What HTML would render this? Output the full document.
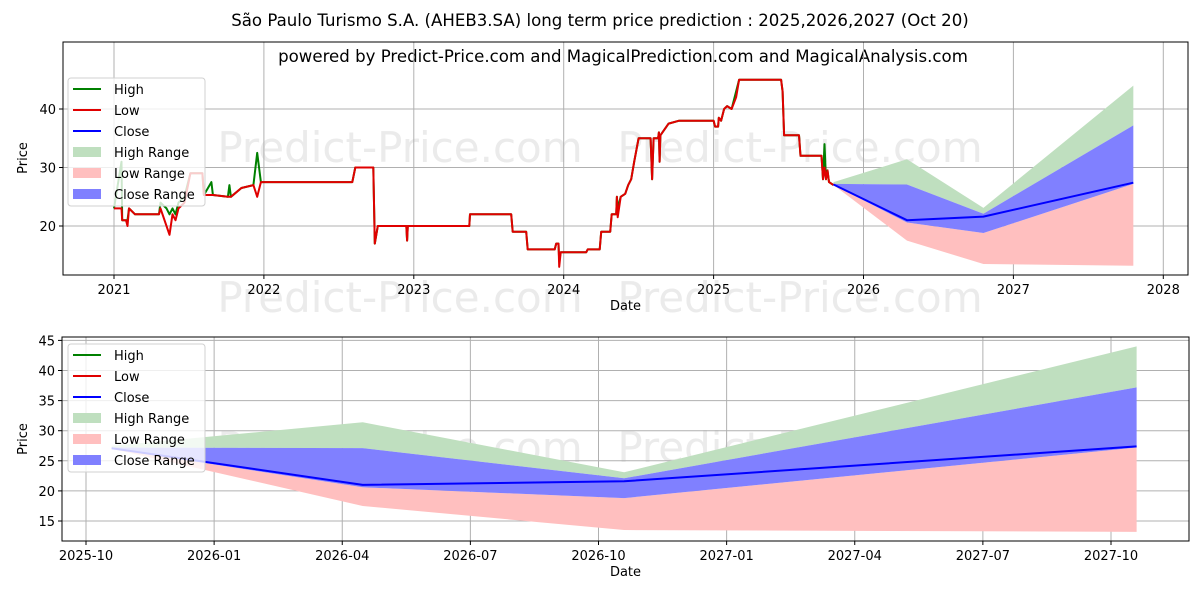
<!DOCTYPE html>
<html><head><meta charset="utf-8">
<style>
html,body{margin:0;padding:0;background:#fff;}
svg{display:block;font-family:"DejaVu Sans","Liberation Sans",sans-serif;}
</style></head>
<body>
<svg id="chart" width="1200" height="600" viewBox="0 0 1200 600" xmlns="http://www.w3.org/2000/svg">
<text x="600" y="26" text-anchor="middle" font-size="16.6">São Paulo Turismo S.A. (AHEB3.SA) long term price prediction : 2025,2026,2027 (Oct 20)</text>
<text x="623" y="62" text-anchor="middle" font-size="16.6">powered by Predict-Price.com and MagicalPrediction.com and MagicalAnalysis.com</text>
<g id="top"></g>
<g id="bot"></g>
</svg>
<script>
// ---- data ----
const histDates = [2021.00,2021.05,2021.055,2021.08,2021.09,2021.10,2021.14,2021.30,2021.31,2021.35,2021.37,2021.39,2021.41,2021.43,2021.47,2021.51,2021.59,2021.60,2021.65,2021.66,2021.76,2021.77,2021.78,2021.85,2021.93,2021.955,2021.98,2022.59,2022.61,2022.73,2022.74,2022.76,2022.95,2022.955,2022.96,2023.37,2023.375,2023.65,2023.66,2023.75,2023.76,2023.94,2023.95,2023.965,2023.97,2023.98,2024.15,2024.16,2024.24,2024.25,2024.31,2024.32,2024.35,2024.355,2024.36,2024.38,2024.41,2024.43,2024.45,2024.47,2024.50,2024.58,2024.59,2024.60,2024.63,2024.635,2024.64,2024.645,2024.70,2024.77,2025.00,2025.01,2025.03,2025.035,2025.05,2025.07,2025.09,2025.12,2025.15,2025.17,2025.45,2025.46,2025.47,2025.57,2025.58,2025.72,2025.73,2025.74,2025.75,2025.76,2025.77,2025.80];
const histLow = [23,23,21,21,20,23,22,22,23,20,18.5,22,21,23,24,29,29,25.3,25.3,25.3,25,25,25,26.5,27,25,27.5,27.5,30,30,17,20,20,17.5,20,20,22,22,19,19,16,16,17,17,13,15.5,15.5,16,16,19,19,22,22,25,21.5,25,25.5,27,28,31,35,35,28,35,35,36,31,35.5,37.5,38,38,37,37,38.5,38,40,40.5,40,42,45,45,43,35.5,35.5,32,32,28,30,28,29.5,27.5,27];
const histHigh = [23,31,21,21,21,23,22,22,24,23,22,23,22,24,25,29,29,25.3,27.5,25.3,25,27,25,26.5,27,32.5,27.5,27.5,30,30,17,20,20,17.5,20,20,22,22,19,19,16,16,17,17,14,15.5,15.5,16,16,19,19,22,22,25,23,25,25.5,27,28,31,35,35,28,35,35,36,31,35.5,37.5,38,38,37,37,38.5,38,40,40.5,40,43,45,45,43,35.5,35.5,32,32,28,34,28,29.5,27.5,27];
const fcDates = [2025.80,2026.29,2026.80,2027.80];
const fcHigh = [27.5,31.4,23.1,44];
const fcCloseTop = [27.2,27.1,22.1,37.2];
const fcClose = [27.1,21,21.6,27.4];
const fcCloseBot = [27,20.6,18.8,27.2];
const fcLow = [27,17.5,13.5,13.2];
const topXTicks = [2021,2022,2023,2024,2025,2026,2027,2028];
const topYTicks = [20,30,40];
const botXTicks = ["2025-10","2026-01","2026-04","2026-07","2026-10","2027-01","2027-04","2027-07","2027-10"];
const botXTickVals = [2025.75,2026.0,2026.25,2026.5,2026.75,2027.0,2027.25,2027.5,2027.75];
const botYTicks = [15,20,25,30,35,40,45];

const NS="http://www.w3.org/2000/svg";
function mk(parent,tag,attrs,text){const e=document.createElementNS(NS,tag);for(const k in attrs)e.setAttribute(k,attrs[k]);if(text!==undefined)e.textContent=text;parent.appendChild(e);return e;}

function panel(g,box,xs,ys,xTicks,xTickLabels,yTicks,showHist,labelY,legY){
  const [L,T,R,B]=box;
  const wm = showHist ? [[400,162],[800,162],[400,312],[800,312]] : [[400,462],[800,462]];
  wm.forEach(p=>{const t=mk(g,'text',{x:p[0],y:p[1],'text-anchor':'middle','font-size':'42',fill:'#ebebeb'},'Predict-Price.com');
    
    });
  xTicks.forEach((v,i)=>{const x=xs(v);
    const l=mk(g,'line',{x1:x,x2:x,y1:T,y2:B,stroke:'#b0b0b0','stroke-width':1});
    
    
    mk(g,'line',{x1:x,x2:x,y1:B,y2:B+4,stroke:'#000'});
    const t=mk(g,'text',{x:x,y:B+19,'text-anchor':'middle','font-size':'13'},xTickLabels[i]);
    
    });
  yTicks.forEach(v=>{const y=ys(v);
    const l=mk(g,'line',{x1:L,x2:R,y1:y,y2:y,stroke:'#b0b0b0','stroke-width':1});
    
    
    mk(g,'line',{x1:L-4,x2:L,y1:y,y2:y,stroke:'#000'});
    const t=mk(g,'text',{x:L-7,y:y+5,'text-anchor':'end','font-size':'13'},String(v));
    
    });
  const n=fcDates.length;
  const poly=(top,bot,fill,name)=>{let pts=[];for(let i=0;i<n;i++)pts.push(xs(fcDates[i])+','+ys(top[i]));for(let i=n-1;i>=0;i--)pts.push(xs(fcDates[i])+','+ys(bot[i]));
    const p=mk(g,'polygon',{points:pts.join(' '),fill:fill});
    
    };
  poly(fcHigh,fcCloseTop,'#bfdfbf','high-range-band');
  poly(fcCloseBot,fcLow,'#ffbfbf','low-range-band');
  poly(fcCloseTop,fcCloseBot,'#8080ff','close-range-band');
  const line=(dates,vals,color,name,w)=>{const d=dates.map((t,i)=>(i?'L':'M')+xs(t).toFixed(1)+','+ys(vals[i]).toFixed(1)).join(' ');
    const p=mk(g,'path',{d:d,fill:'none',stroke:color,'stroke-width':w,'stroke-linejoin':'round'});
    
    };
  if(showHist){line(histDates,histHigh,'#008000','high-line',2);line(histDates,histLow,'#e00000','low-line',2);}
  line(fcDates,fcClose,'#0000ff','close-line',2);
  mk(g,'rect',{x:L,y:T,width:R-L,height:B-T,fill:'none',stroke:'#000','stroke-width':1});
  const xl=mk(g,'text',{x:(L+R)/2,y:B+35,'text-anchor':'middle','font-size':'13'},'Date');
  
  
  const yl=mk(g,'text',{x:27,y:labelY,'text-anchor':'middle','font-size':'13',transform:`rotate(-90 27 ${labelY})`},'Price');
  
  
  const lg=mk(g,'g',{});
  
  
  mk(lg,'rect',{x:68,y:legY,width:137,height:128,rx:3,fill:'#fff','fill-opacity':0.8,stroke:'#d0d0d0'});
  const items=[['High','#008000',0],['Low','#e00000',0],['Close','#0000ff',0],['High Range','#bfdfbf',1],['Low Range','#ffbfbf',1],['Close Range','#8080ff',1]];
  items.forEach((it,i)=>{const y=legY+11+i*21;
    const e=mk(lg,'g',{});
    
    
    if(it[2])mk(e,'rect',{x:73,y:y-5,width:28,height:10,fill:it[1]});
    else mk(e,'line',{x1:73,x2:101,y1:y,y2:y,stroke:it[1],'stroke-width':2});
    mk(e,'text',{x:114,y:y+5,'font-size':'13'},it[0]);});
}
const tb=[63,42,1188,275];
const txs=v=>114+(v-2021)*149.9;
const tys=v=>226-(v-20)*5.85;
panel(document.getElementById('top'),tb,txs,tys,topXTicks,topXTicks.map(String),topYTicks,true,158,78);
const bb=[62,337,1189,541];
const bxs=v=>86+(v-2025.75)*512.5;
const bys=v=>521-(v-15)*6.02;
panel(document.getElementById('bot'),bb,bxs,bys,botXTickVals,botXTicks,botYTicks,false,439,344);
</script>
</body></html>
